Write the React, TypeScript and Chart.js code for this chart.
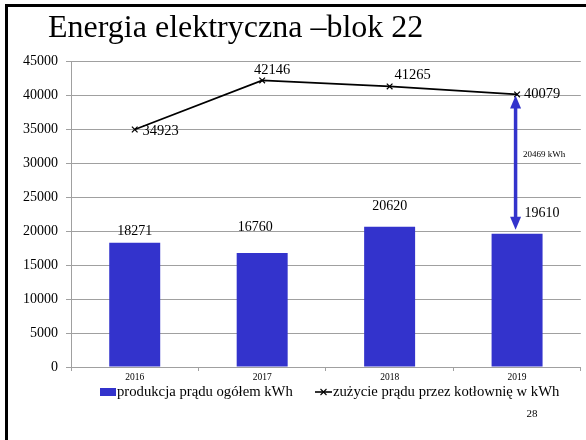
import React, { useEffect, useRef } from "react";
import { Chart, registerables } from "chart.js";

Chart.register(...registerables);

// ---- data ----
const categories = ["2016", "2017", "2018", "2019"];
const production = [18271, 16760, 20620, 19610];
const consumption = [34923, 42146, 41265, 40079];
const seriesLabels = [
  "produkcja prądu ogółem kWh",
  "zużycie prądu przez kotłownię w kWh",
];
const yMin = 0;
const yMax = 45000;
const yStep = 5000;
const titleText = "Energia elektryczna –blok 22";
const pageNumber = "28";
const gapUnit = "kWh";

// ---- styles ----
const SERIF = "'Times New Roman', 'Liberation Serif', 'DejaVu Serif', serif";
const BLUE = "#3333CC";
const GRID = "#a0a0a0";

// label offsets (dx, dy relative to element top / point), in px
const barLabelOffsets = [
  [0, -11],
  [-7, -26],
  [0, -20],
  [25, -20],
];
const lineLabelOffsets = [
  [26, 2],
  [10, -10],
  [23, -11],
  [25, 0],
];

const slidePlugin = {
  id: "slide",
  beforeDraw(chart: any) {
    const ctx = chart.ctx;
    ctx.save();
    ctx.fillStyle = "#ffffff";
    ctx.fillRect(0, 0, chart.width, chart.height);
    ctx.fillStyle = "#000000";
    ctx.fillRect(5, 4, 3, chart.height - 4);
    ctx.fillRect(5, 4, chart.width - 5, 3);
    ctx.font = `32px ${SERIF}`;
    ctx.textAlign = "left";
    ctx.textBaseline = "alphabetic";
    ctx.fillText(titleText, 48, 37);
    ctx.font = `11px ${SERIF}`;
    ctx.textAlign = "center";
    ctx.textBaseline = "middle";
    ctx.fillText(pageNumber, 532, 414);
    ctx.restore();
  },
  afterDatasetsDraw(chart: any) {
    const ctx = chart.ctx;
    const barMeta = chart.getDatasetMeta(0);
    const lineMeta = chart.getDatasetMeta(1);
    ctx.save();
    ctx.fillStyle = "#000000";
    ctx.font = `14px ${SERIF}`;
    ctx.textAlign = "center";
    ctx.textBaseline = "middle";
    barMeta.data.forEach((el: any, i: number) => {
      const [dx, dy] = barLabelOffsets[i];
      ctx.fillText(String(chart.data.datasets[0].data[i]), el.x + dx, el.y + dy);
    });
    ctx.font = `14.5px ${SERIF}`;
    lineMeta.data.forEach((el: any, i: number) => {
      const [dx, dy] = lineLabelOffsets[i];
      ctx.fillText(String(chart.data.datasets[1].data[i]), el.x + dx, el.y + dy);
    });

    // double arrow between last line point and last bar
    const last = categories.length - 1;
    const pt = lineMeta.data[last];
    const bar = barMeta.data[last];
    const ax = pt.x - 1.5;
    const top = pt.y + 1;
    const bottom = bar.y - 4;
    const headL = 13;
    const headW = 5.5;
    ctx.strokeStyle = BLUE;
    ctx.fillStyle = BLUE;
    ctx.lineWidth = 3.5;
    ctx.beginPath();
    ctx.moveTo(ax, top + headL - 1);
    ctx.lineTo(ax, bottom - headL + 1);
    ctx.stroke();
    ctx.beginPath();
    ctx.moveTo(ax, top);
    ctx.lineTo(ax - headW, top + headL);
    ctx.lineTo(ax + headW, top + headL);
    ctx.closePath();
    ctx.fill();
    ctx.beginPath();
    ctx.moveTo(ax, bottom);
    ctx.lineTo(ax - headW, bottom - headL);
    ctx.lineTo(ax + headW, bottom - headL);
    ctx.closePath();
    ctx.fill();
    ctx.fillStyle = "#000000";
    ctx.font = `9px ${SERIF}`;
    ctx.textAlign = "left";
    ctx.fillText(
      `${consumption[last] - production[last]} ${gapUnit}`,
      ax + 7.5,
      (top + bottom) / 2 - 8
    );

    // legend
    const ly = 392;
    ctx.fillStyle = BLUE;
    ctx.fillRect(100, ly - 4, 16, 8);
    ctx.fillStyle = "#000000";
    ctx.font = `14.7px ${SERIF}`;
    ctx.textAlign = "left";
    ctx.textBaseline = "middle";
    ctx.fillText(chart.data.datasets[0].label, 117, ly);
    ctx.strokeStyle = "#000000";
    ctx.lineWidth = 1.6;
    ctx.beginPath();
    ctx.moveTo(315, ly);
    ctx.lineTo(332, ly);
    ctx.stroke();
    ctx.lineWidth = 1.1;
    const cx = 323.5;
    ctx.beginPath();
    ctx.moveTo(cx - 3, ly - 3);
    ctx.lineTo(cx + 3, ly + 3);
    ctx.moveTo(cx + 3, ly - 3);
    ctx.lineTo(cx - 3, ly + 3);
    ctx.stroke();
    ctx.fillText(chart.data.datasets[1].label, 333, ly);
    ctx.restore();
  },
};

export default function App() {
  const canvasRef = useRef<HTMLCanvasElement | null>(null);

  useEffect(() => {
    const canvas = canvasRef.current;
    if (!canvas) return;
    const chart = new Chart(canvas, {
      type: "bar",
      data: {
        labels: categories,
        datasets: [
          {
            type: "bar",
            label: seriesLabels[0],
            data: production,
            backgroundColor: BLUE,
            borderWidth: 0,
            barPercentage: 0.4,
            categoryPercentage: 1,
            order: 2,
          },
          {
            type: "line",
            label: seriesLabels[1],
            data: consumption,
            borderColor: "#000000",
            borderWidth: 1.8,
            pointStyle: "crossRot",
            pointRadius: 4,
            pointBorderWidth: 1.2,
            pointBorderColor: "#000000",
            pointBackgroundColor: "#000000",
            tension: 0,
            fill: false,
            order: 1,
          } as any,
        ],
      },
      options: {
        responsive: false,
        animation: false,
        devicePixelRatio: 1,
        layout: { padding: { top: 61, right: 3, bottom: 0, left: 0 } },
        plugins: {
          legend: { display: false },
          tooltip: { enabled: false },
          title: { display: false },
        },
        scales: {
          x: {
            offset: true,
            grid: {
              display: true,
              drawOnChartArea: false,
              drawTicks: true,
              tickLength: 4,
              color: GRID,
              offset: true,
            },
            border: { display: true, color: GRID },
            ticks: {
              font: { family: SERIF, size: 9.5 },
              color: "#000000",
              padding: 1,
            },
            afterFit(scale: any) {
              scale.height = 73;
            },
          },
          y: {
            min: yMin,
            max: yMax,
            ticks: {
              stepSize: yStep,
              font: { family: SERIF, size: 14 },
              color: "#000000",
              padding: 8,
              callback: (v: any) => String(v),
            },
            grid: { color: GRID, tickLength: 5, drawTicks: true },
            border: { display: true, color: GRID },
            afterFit(scale: any) {
              scale.width = 71;
            },
          },
        },
      },
      plugins: [slidePlugin],
    });
    return () => chart.destroy();
  }, []);

  return (
    <div style={{ position: "absolute", left: 0, top: 0, width: 586, height: 440 }}>
      <canvas ref={canvasRef} width={586} height={440} style={{ display: "block" }} />
    </div>
  );
}
